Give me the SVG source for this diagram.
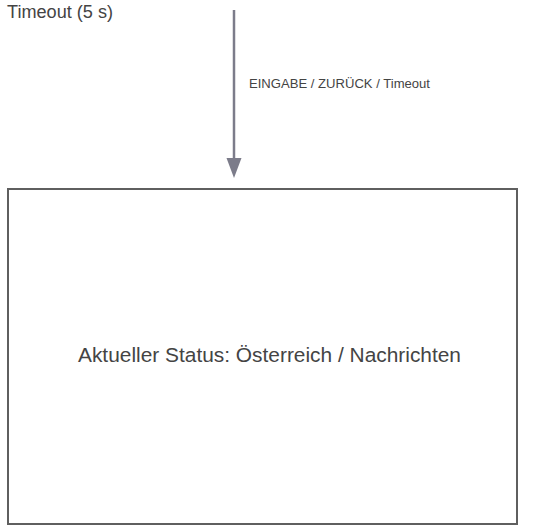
<svg xmlns="http://www.w3.org/2000/svg" width="537" height="526" viewBox="0 0 537 526">
  <defs>
    <style>
      .lbl { font-family: "Liberation Sans", Arial, Helvetica, sans-serif; fill: #444444; }
      .state { fill: #ffffff; stroke: #5f5f5f; stroke-width: 2; }
      .edge { stroke: #7c7c8a; stroke-width: 2.5; fill: none; }
      .head { fill: #7c7c8a; }
    </style>
  </defs>
  <rect width="537" height="526" fill="#ffffff"/>
  <g id="initial-label">
    <text class="lbl" x="7" y="18" font-size="17.5" textLength="106" lengthAdjust="spacingAndGlyphs">Timeout (5 s)</text>
  </g>
  <g id="connectors">
    <line class="edge" x1="234" y1="10" x2="234" y2="160"/>
    <path class="head" d="M226.5,158 L241.5,158 L234,178 Z"/>
    <text class="lbl" x="249" y="88" font-size="12.5" textLength="181" lengthAdjust="spacingAndGlyphs">EINGABE / ZURÜCK / Timeout</text>
  </g>
  <g id="state-current">
    <rect class="state" x="8" y="189" width="509" height="335"/>
    <text class="lbl" x="78" y="362" font-size="20.5" textLength="383" lengthAdjust="spacingAndGlyphs">Aktueller Status: Österreich / Nachrichten</text>
  </g>
</svg>
